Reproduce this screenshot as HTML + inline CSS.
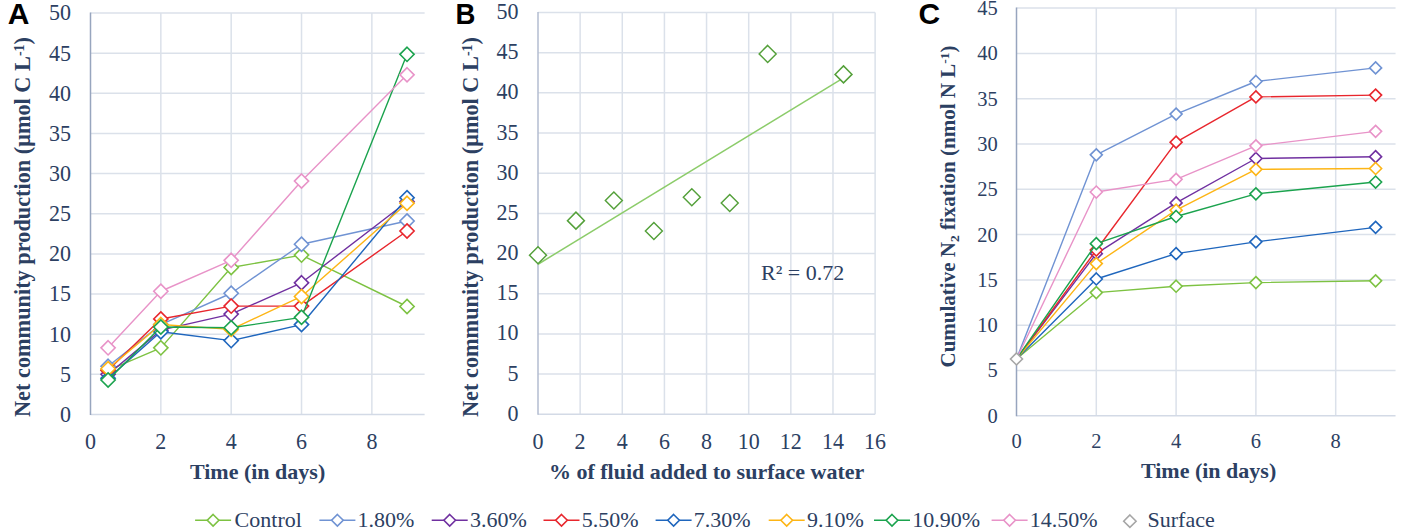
<!DOCTYPE html>
<html><head><meta charset="utf-8"><style>
html,body{margin:0;padding:0;background:#fff;}
body{width:1409px;height:530px;overflow:hidden;font-family:"Liberation Serif",serif;}
svg{display:block;}
</style></head><body>
<svg width="1409" height="530" viewBox="0 0 1409 530">
<rect width="1409" height="530" fill="#fff"/>
<line x1="90.5" y1="374.35" x2="424.62" y2="374.35" stroke="#dbe1ea" stroke-width="1.5"/>
<line x1="90.5" y1="334.20" x2="424.62" y2="334.20" stroke="#dbe1ea" stroke-width="1.5"/>
<line x1="90.5" y1="294.05" x2="424.62" y2="294.05" stroke="#dbe1ea" stroke-width="1.5"/>
<line x1="90.5" y1="253.90" x2="424.62" y2="253.90" stroke="#dbe1ea" stroke-width="1.5"/>
<line x1="90.5" y1="213.75" x2="424.62" y2="213.75" stroke="#dbe1ea" stroke-width="1.5"/>
<line x1="90.5" y1="173.60" x2="424.62" y2="173.60" stroke="#dbe1ea" stroke-width="1.5"/>
<line x1="90.5" y1="133.45" x2="424.62" y2="133.45" stroke="#dbe1ea" stroke-width="1.5"/>
<line x1="90.5" y1="93.30" x2="424.62" y2="93.30" stroke="#dbe1ea" stroke-width="1.5"/>
<line x1="90.5" y1="53.15" x2="424.62" y2="53.15" stroke="#dbe1ea" stroke-width="1.5"/>
<line x1="90.5" y1="13.00" x2="424.62" y2="13.00" stroke="#dbe1ea" stroke-width="1.5"/>
<line x1="160.84" y1="13.00" x2="160.84" y2="414.50" stroke="#dbe1ea" stroke-width="1.5"/>
<line x1="231.18" y1="13.00" x2="231.18" y2="414.50" stroke="#dbe1ea" stroke-width="1.5"/>
<line x1="301.52" y1="13.00" x2="301.52" y2="414.50" stroke="#dbe1ea" stroke-width="1.5"/>
<line x1="371.86" y1="13.00" x2="371.86" y2="414.50" stroke="#dbe1ea" stroke-width="1.5"/>
<line x1="90.5" y1="414.50" x2="424.62" y2="414.50" stroke="#d3dae6" stroke-width="1.5"/>
<line x1="90.5" y1="12.50" x2="90.5" y2="415.00" stroke="#97a5be" stroke-width="1.5"/>
<line x1="538.0" y1="374.12" x2="875.12" y2="374.12" stroke="#dbe1ea" stroke-width="1.5"/>
<line x1="538.0" y1="333.94" x2="875.12" y2="333.94" stroke="#dbe1ea" stroke-width="1.5"/>
<line x1="538.0" y1="293.76" x2="875.12" y2="293.76" stroke="#dbe1ea" stroke-width="1.5"/>
<line x1="538.0" y1="253.58" x2="875.12" y2="253.58" stroke="#dbe1ea" stroke-width="1.5"/>
<line x1="538.0" y1="213.40" x2="875.12" y2="213.40" stroke="#dbe1ea" stroke-width="1.5"/>
<line x1="538.0" y1="173.22" x2="875.12" y2="173.22" stroke="#dbe1ea" stroke-width="1.5"/>
<line x1="538.0" y1="133.04" x2="875.12" y2="133.04" stroke="#dbe1ea" stroke-width="1.5"/>
<line x1="538.0" y1="92.86" x2="875.12" y2="92.86" stroke="#dbe1ea" stroke-width="1.5"/>
<line x1="538.0" y1="52.68" x2="875.12" y2="52.68" stroke="#dbe1ea" stroke-width="1.5"/>
<line x1="538.0" y1="12.50" x2="875.12" y2="12.50" stroke="#dbe1ea" stroke-width="1.5"/>
<line x1="580.14" y1="12.50" x2="580.14" y2="414.30" stroke="#dbe1ea" stroke-width="1.5"/>
<line x1="622.28" y1="12.50" x2="622.28" y2="414.30" stroke="#dbe1ea" stroke-width="1.5"/>
<line x1="664.42" y1="12.50" x2="664.42" y2="414.30" stroke="#dbe1ea" stroke-width="1.5"/>
<line x1="706.56" y1="12.50" x2="706.56" y2="414.30" stroke="#dbe1ea" stroke-width="1.5"/>
<line x1="748.70" y1="12.50" x2="748.70" y2="414.30" stroke="#dbe1ea" stroke-width="1.5"/>
<line x1="790.84" y1="12.50" x2="790.84" y2="414.30" stroke="#dbe1ea" stroke-width="1.5"/>
<line x1="832.98" y1="12.50" x2="832.98" y2="414.30" stroke="#dbe1ea" stroke-width="1.5"/>
<line x1="875.12" y1="12.50" x2="875.12" y2="414.30" stroke="#dbe1ea" stroke-width="1.5"/>
<line x1="538.0" y1="414.30" x2="875.12" y2="414.30" stroke="#d3dae6" stroke-width="1.5"/>
<line x1="538.0" y1="12.00" x2="538.0" y2="414.80" stroke="#b3bdd0" stroke-width="1.5"/>
<line x1="1016.5" y1="370.50" x2="1395.55" y2="370.50" stroke="#dbe1ea" stroke-width="1.5"/>
<line x1="1016.5" y1="325.20" x2="1395.55" y2="325.20" stroke="#dbe1ea" stroke-width="1.5"/>
<line x1="1016.5" y1="279.90" x2="1395.55" y2="279.90" stroke="#dbe1ea" stroke-width="1.5"/>
<line x1="1016.5" y1="234.60" x2="1395.55" y2="234.60" stroke="#dbe1ea" stroke-width="1.5"/>
<line x1="1016.5" y1="189.30" x2="1395.55" y2="189.30" stroke="#dbe1ea" stroke-width="1.5"/>
<line x1="1016.5" y1="144.00" x2="1395.55" y2="144.00" stroke="#dbe1ea" stroke-width="1.5"/>
<line x1="1016.5" y1="98.70" x2="1395.55" y2="98.70" stroke="#dbe1ea" stroke-width="1.5"/>
<line x1="1016.5" y1="53.40" x2="1395.55" y2="53.40" stroke="#dbe1ea" stroke-width="1.5"/>
<line x1="1016.5" y1="8.10" x2="1395.55" y2="8.10" stroke="#dbe1ea" stroke-width="1.5"/>
<line x1="1096.30" y1="8.10" x2="1096.30" y2="415.80" stroke="#dbe1ea" stroke-width="1.5"/>
<line x1="1176.10" y1="8.10" x2="1176.10" y2="415.80" stroke="#dbe1ea" stroke-width="1.5"/>
<line x1="1255.90" y1="8.10" x2="1255.90" y2="415.80" stroke="#dbe1ea" stroke-width="1.5"/>
<line x1="1335.70" y1="8.10" x2="1335.70" y2="415.80" stroke="#dbe1ea" stroke-width="1.5"/>
<line x1="1016.5" y1="415.80" x2="1395.55" y2="415.80" stroke="#d3dae6" stroke-width="1.5"/>
<line x1="1016.5" y1="7.60" x2="1016.5" y2="416.30" stroke="#97a5be" stroke-width="1.5"/>
<polyline points="108.09,370.33 160.84,347.85 231.18,267.55 301.52,255.10 407.03,306.50" fill="none" stroke="#7dc242" stroke-width="1.4" stroke-linejoin="round"/>
<path d="M108.09 363.23L115.19 370.33L108.09 377.44L100.99 370.33Z" fill="#fff" stroke="#7dc242" stroke-width="1.6" stroke-linejoin="miter"/>
<path d="M160.84 340.75L167.94 347.85L160.84 354.95L153.74 347.85Z" fill="#fff" stroke="#7dc242" stroke-width="1.6" stroke-linejoin="miter"/>
<path d="M231.18 260.45L238.28 267.55L231.18 274.65L224.08 267.55Z" fill="#fff" stroke="#7dc242" stroke-width="1.6" stroke-linejoin="miter"/>
<path d="M301.52 248.00L308.62 255.10L301.52 262.20L294.42 255.10Z" fill="#fff" stroke="#7dc242" stroke-width="1.6" stroke-linejoin="miter"/>
<path d="M407.03 299.40L414.13 306.50L407.03 313.60L399.93 306.50Z" fill="#fff" stroke="#7dc242" stroke-width="1.6" stroke-linejoin="miter"/>
<polyline points="108.09,366.32 160.84,324.56 231.18,293.25 301.52,244.26 407.03,220.98" fill="none" stroke="#7093d3" stroke-width="1.4" stroke-linejoin="round"/>
<path d="M108.09 359.22L115.19 366.32L108.09 373.42L100.99 366.32Z" fill="#fff" stroke="#7093d3" stroke-width="1.6" stroke-linejoin="miter"/>
<path d="M160.84 317.46L167.94 324.56L160.84 331.66L153.74 324.56Z" fill="#fff" stroke="#7093d3" stroke-width="1.6" stroke-linejoin="miter"/>
<path d="M231.18 286.15L238.28 293.25L231.18 300.35L224.08 293.25Z" fill="#fff" stroke="#7093d3" stroke-width="1.6" stroke-linejoin="miter"/>
<path d="M301.52 237.16L308.62 244.26L301.52 251.36L294.42 244.26Z" fill="#fff" stroke="#7093d3" stroke-width="1.6" stroke-linejoin="miter"/>
<path d="M407.03 213.88L414.13 220.98L407.03 228.08L399.93 220.98Z" fill="#fff" stroke="#7093d3" stroke-width="1.6" stroke-linejoin="miter"/>
<polyline points="108.09,374.35 160.84,330.19 231.18,314.12 301.52,282.81 407.03,201.71" fill="none" stroke="#7030a0" stroke-width="1.4" stroke-linejoin="round"/>
<path d="M108.09 367.25L115.19 374.35L108.09 381.45L100.99 374.35Z" fill="#fff" stroke="#7030a0" stroke-width="1.6" stroke-linejoin="miter"/>
<path d="M160.84 323.08L167.94 330.19L160.84 337.29L153.74 330.19Z" fill="#fff" stroke="#7030a0" stroke-width="1.6" stroke-linejoin="miter"/>
<path d="M231.18 307.02L238.28 314.12L231.18 321.23L224.08 314.12Z" fill="#fff" stroke="#7030a0" stroke-width="1.6" stroke-linejoin="miter"/>
<path d="M301.52 275.71L308.62 282.81L301.52 289.91L294.42 282.81Z" fill="#fff" stroke="#7030a0" stroke-width="1.6" stroke-linejoin="miter"/>
<path d="M407.03 194.61L414.13 201.71L407.03 208.81L399.93 201.71Z" fill="#fff" stroke="#7030a0" stroke-width="1.6" stroke-linejoin="miter"/>
<polyline points="108.09,370.33 160.84,318.94 231.18,306.10 301.52,306.10 407.03,231.01" fill="none" stroke="#e8262d" stroke-width="1.4" stroke-linejoin="round"/>
<path d="M108.09 363.23L115.19 370.33L108.09 377.44L100.99 370.33Z" fill="#fff" stroke="#e8262d" stroke-width="1.6" stroke-linejoin="miter"/>
<path d="M160.84 311.84L167.94 318.94L160.84 326.04L153.74 318.94Z" fill="#fff" stroke="#e8262d" stroke-width="1.6" stroke-linejoin="miter"/>
<path d="M231.18 299.00L238.28 306.10L231.18 313.20L224.08 306.10Z" fill="#fff" stroke="#e8262d" stroke-width="1.6" stroke-linejoin="miter"/>
<path d="M301.52 299.00L308.62 306.10L301.52 313.20L294.42 306.10Z" fill="#fff" stroke="#e8262d" stroke-width="1.6" stroke-linejoin="miter"/>
<path d="M407.03 223.91L414.13 231.01L407.03 238.11L399.93 231.01Z" fill="#fff" stroke="#e8262d" stroke-width="1.6" stroke-linejoin="miter"/>
<polyline points="108.09,378.37 160.84,331.79 231.18,340.62 301.52,324.56 407.03,197.69" fill="none" stroke="#1f66bd" stroke-width="1.4" stroke-linejoin="round"/>
<path d="M108.09 371.26L115.19 378.37L108.09 385.47L100.99 378.37Z" fill="#fff" stroke="#1f66bd" stroke-width="1.6" stroke-linejoin="miter"/>
<path d="M160.84 324.69L167.94 331.79L160.84 338.89L153.74 331.79Z" fill="#fff" stroke="#1f66bd" stroke-width="1.6" stroke-linejoin="miter"/>
<path d="M231.18 333.52L238.28 340.62L231.18 347.72L224.08 340.62Z" fill="#fff" stroke="#1f66bd" stroke-width="1.6" stroke-linejoin="miter"/>
<path d="M301.52 317.46L308.62 324.56L301.52 331.66L294.42 324.56Z" fill="#fff" stroke="#1f66bd" stroke-width="1.6" stroke-linejoin="miter"/>
<path d="M407.03 190.59L414.13 197.69L407.03 204.79L399.93 197.69Z" fill="#fff" stroke="#1f66bd" stroke-width="1.6" stroke-linejoin="miter"/>
<polyline points="108.09,368.73 160.84,324.56 231.18,329.38 301.52,296.46 407.03,203.31" fill="none" stroke="#fdb515" stroke-width="1.4" stroke-linejoin="round"/>
<path d="M108.09 361.63L115.19 368.73L108.09 375.83L100.99 368.73Z" fill="#fff" stroke="#fdb515" stroke-width="1.6" stroke-linejoin="miter"/>
<path d="M160.84 317.46L167.94 324.56L160.84 331.66L153.74 324.56Z" fill="#fff" stroke="#fdb515" stroke-width="1.6" stroke-linejoin="miter"/>
<path d="M231.18 322.28L238.28 329.38L231.18 336.48L224.08 329.38Z" fill="#fff" stroke="#fdb515" stroke-width="1.6" stroke-linejoin="miter"/>
<path d="M301.52 289.36L308.62 296.46L301.52 303.56L294.42 296.46Z" fill="#fff" stroke="#fdb515" stroke-width="1.6" stroke-linejoin="miter"/>
<path d="M407.03 196.21L414.13 203.31L407.03 210.41L399.93 203.31Z" fill="#fff" stroke="#fdb515" stroke-width="1.6" stroke-linejoin="miter"/>
<polyline points="108.09,379.97 160.84,326.97 231.18,327.78 301.52,317.34 407.03,54.35" fill="none" stroke="#1ba34e" stroke-width="1.4" stroke-linejoin="round"/>
<path d="M108.09 372.87L115.19 379.97L108.09 387.07L100.99 379.97Z" fill="#fff" stroke="#1ba34e" stroke-width="1.6" stroke-linejoin="miter"/>
<path d="M160.84 319.87L167.94 326.97L160.84 334.07L153.74 326.97Z" fill="#fff" stroke="#1ba34e" stroke-width="1.6" stroke-linejoin="miter"/>
<path d="M231.18 320.68L238.28 327.78L231.18 334.88L224.08 327.78Z" fill="#fff" stroke="#1ba34e" stroke-width="1.6" stroke-linejoin="miter"/>
<path d="M301.52 310.24L308.62 317.34L301.52 324.44L294.42 317.34Z" fill="#fff" stroke="#1ba34e" stroke-width="1.6" stroke-linejoin="miter"/>
<path d="M407.03 47.25L414.13 54.35L407.03 61.45L399.93 54.35Z" fill="#fff" stroke="#1ba34e" stroke-width="1.6" stroke-linejoin="miter"/>
<polyline points="108.09,347.85 160.84,291.24 231.18,260.32 301.52,181.07 407.03,74.83" fill="none" stroke="#e893c8" stroke-width="1.4" stroke-linejoin="round"/>
<path d="M108.09 340.75L115.19 347.85L108.09 354.95L100.99 347.85Z" fill="#fff" stroke="#e893c8" stroke-width="1.6" stroke-linejoin="miter"/>
<path d="M160.84 284.14L167.94 291.24L160.84 298.34L153.74 291.24Z" fill="#fff" stroke="#e893c8" stroke-width="1.6" stroke-linejoin="miter"/>
<path d="M231.18 253.22L238.28 260.32L231.18 267.42L224.08 260.32Z" fill="#fff" stroke="#e893c8" stroke-width="1.6" stroke-linejoin="miter"/>
<path d="M301.52 173.97L308.62 181.07L301.52 188.17L294.42 181.07Z" fill="#fff" stroke="#e893c8" stroke-width="1.6" stroke-linejoin="miter"/>
<path d="M407.03 67.73L414.13 74.83L407.03 81.93L399.93 74.83Z" fill="#fff" stroke="#e893c8" stroke-width="1.6" stroke-linejoin="miter"/>
<line x1="538.00" y1="264.26" x2="843.51" y2="77.80" stroke="#8ccc6a" stroke-width="1.5"/>
<path d="M538.00 246.69L546.50 255.19L538.00 263.69L529.50 255.19Z" fill="#fff" stroke="#54a03a" stroke-width="1.45" stroke-linejoin="miter"/>
<path d="M575.93 212.13L584.43 220.63L575.93 229.13L567.43 220.63Z" fill="#fff" stroke="#54a03a" stroke-width="1.45" stroke-linejoin="miter"/>
<path d="M613.85 192.04L622.35 200.54L613.85 209.04L605.35 200.54Z" fill="#fff" stroke="#54a03a" stroke-width="1.45" stroke-linejoin="miter"/>
<path d="M653.88 222.58L662.38 231.08L653.88 239.58L645.38 231.08Z" fill="#fff" stroke="#54a03a" stroke-width="1.45" stroke-linejoin="miter"/>
<path d="M691.81 188.83L700.31 197.33L691.81 205.83L683.31 197.33Z" fill="#fff" stroke="#54a03a" stroke-width="1.45" stroke-linejoin="miter"/>
<path d="M729.74 194.45L738.24 202.95L729.74 211.45L721.24 202.95Z" fill="#fff" stroke="#54a03a" stroke-width="1.45" stroke-linejoin="miter"/>
<path d="M767.66 45.39L776.16 53.89L767.66 62.39L759.16 53.89Z" fill="#fff" stroke="#54a03a" stroke-width="1.45" stroke-linejoin="miter"/>
<path d="M843.51 65.88L852.01 74.38L843.51 82.88L835.01 74.38Z" fill="#fff" stroke="#54a03a" stroke-width="1.45" stroke-linejoin="miter"/>
<polyline points="1016.50,358.99 1096.30,292.58 1176.10,286.24 1255.90,282.62 1375.60,280.81" fill="none" stroke="#7dc242" stroke-width="1.4" stroke-linejoin="round"/>
<path d="M1096.30 286.58L1102.30 292.58L1096.30 298.58L1090.30 292.58Z" fill="#fff" stroke="#7dc242" stroke-width="1.6" stroke-linejoin="miter"/>
<path d="M1176.10 280.24L1182.10 286.24L1176.10 292.24L1170.10 286.24Z" fill="#fff" stroke="#7dc242" stroke-width="1.6" stroke-linejoin="miter"/>
<path d="M1255.90 276.62L1261.90 282.62L1255.90 288.62L1249.90 282.62Z" fill="#fff" stroke="#7dc242" stroke-width="1.6" stroke-linejoin="miter"/>
<path d="M1375.60 274.81L1381.60 280.81L1375.60 286.81L1369.60 280.81Z" fill="#fff" stroke="#7dc242" stroke-width="1.6" stroke-linejoin="miter"/>
<polyline points="1016.50,358.99 1096.30,154.87 1176.10,114.10 1255.90,81.49 1375.60,67.90" fill="none" stroke="#7093d3" stroke-width="1.4" stroke-linejoin="round"/>
<path d="M1096.30 148.87L1102.30 154.87L1096.30 160.87L1090.30 154.87Z" fill="#fff" stroke="#7093d3" stroke-width="1.6" stroke-linejoin="miter"/>
<path d="M1176.10 108.10L1182.10 114.10L1176.10 120.10L1170.10 114.10Z" fill="#fff" stroke="#7093d3" stroke-width="1.6" stroke-linejoin="miter"/>
<path d="M1255.90 75.49L1261.90 81.49L1255.90 87.49L1249.90 81.49Z" fill="#fff" stroke="#7093d3" stroke-width="1.6" stroke-linejoin="miter"/>
<path d="M1375.60 61.90L1381.60 67.90L1375.60 73.90L1369.60 67.90Z" fill="#fff" stroke="#7093d3" stroke-width="1.6" stroke-linejoin="miter"/>
<polyline points="1016.50,358.99 1096.30,253.63 1176.10,202.89 1255.90,158.50 1375.60,156.68" fill="none" stroke="#7030a0" stroke-width="1.4" stroke-linejoin="round"/>
<path d="M1096.30 247.63L1102.30 253.63L1096.30 259.63L1090.30 253.63Z" fill="#fff" stroke="#7030a0" stroke-width="1.6" stroke-linejoin="miter"/>
<path d="M1176.10 196.89L1182.10 202.89L1176.10 208.89L1170.10 202.89Z" fill="#fff" stroke="#7030a0" stroke-width="1.6" stroke-linejoin="miter"/>
<path d="M1255.90 152.50L1261.90 158.50L1255.90 164.50L1249.90 158.50Z" fill="#fff" stroke="#7030a0" stroke-width="1.6" stroke-linejoin="miter"/>
<path d="M1375.60 150.68L1381.60 156.68L1375.60 162.68L1369.60 156.68Z" fill="#fff" stroke="#7030a0" stroke-width="1.6" stroke-linejoin="miter"/>
<polyline points="1016.50,358.99 1096.30,250.00 1176.10,142.19 1255.90,96.89 1375.60,95.08" fill="none" stroke="#e8262d" stroke-width="1.4" stroke-linejoin="round"/>
<path d="M1096.30 244.00L1102.30 250.00L1096.30 256.00L1090.30 250.00Z" fill="#fff" stroke="#e8262d" stroke-width="1.6" stroke-linejoin="miter"/>
<path d="M1176.10 136.19L1182.10 142.19L1176.10 148.19L1170.10 142.19Z" fill="#fff" stroke="#e8262d" stroke-width="1.6" stroke-linejoin="miter"/>
<path d="M1255.90 90.89L1261.90 96.89L1255.90 102.89L1249.90 96.89Z" fill="#fff" stroke="#e8262d" stroke-width="1.6" stroke-linejoin="miter"/>
<path d="M1375.60 89.08L1381.60 95.08L1375.60 101.08L1369.60 95.08Z" fill="#fff" stroke="#e8262d" stroke-width="1.6" stroke-linejoin="miter"/>
<polyline points="1016.50,358.99 1096.30,278.99 1176.10,253.63 1255.90,241.85 1375.60,227.35" fill="none" stroke="#1f66bd" stroke-width="1.4" stroke-linejoin="round"/>
<path d="M1096.30 272.99L1102.30 278.99L1096.30 284.99L1090.30 278.99Z" fill="#fff" stroke="#1f66bd" stroke-width="1.6" stroke-linejoin="miter"/>
<path d="M1176.10 247.63L1182.10 253.63L1176.10 259.63L1170.10 253.63Z" fill="#fff" stroke="#1f66bd" stroke-width="1.6" stroke-linejoin="miter"/>
<path d="M1255.90 235.85L1261.90 241.85L1255.90 247.85L1249.90 241.85Z" fill="#fff" stroke="#1f66bd" stroke-width="1.6" stroke-linejoin="miter"/>
<path d="M1375.60 221.35L1381.60 227.35L1375.60 233.35L1369.60 227.35Z" fill="#fff" stroke="#1f66bd" stroke-width="1.6" stroke-linejoin="miter"/>
<polyline points="1016.50,358.99 1096.30,263.59 1176.10,210.14 1255.90,169.37 1375.60,168.46" fill="none" stroke="#fdb515" stroke-width="1.4" stroke-linejoin="round"/>
<path d="M1096.30 257.59L1102.30 263.59L1096.30 269.59L1090.30 263.59Z" fill="#fff" stroke="#fdb515" stroke-width="1.6" stroke-linejoin="miter"/>
<path d="M1176.10 204.14L1182.10 210.14L1176.10 216.14L1170.10 210.14Z" fill="#fff" stroke="#fdb515" stroke-width="1.6" stroke-linejoin="miter"/>
<path d="M1255.90 163.37L1261.90 169.37L1255.90 175.37L1249.90 169.37Z" fill="#fff" stroke="#fdb515" stroke-width="1.6" stroke-linejoin="miter"/>
<path d="M1375.60 162.46L1381.60 168.46L1375.60 174.46L1369.60 168.46Z" fill="#fff" stroke="#fdb515" stroke-width="1.6" stroke-linejoin="miter"/>
<polyline points="1016.50,358.99 1096.30,243.66 1176.10,216.48 1255.90,193.83 1375.60,182.05" fill="none" stroke="#1ba34e" stroke-width="1.4" stroke-linejoin="round"/>
<path d="M1096.30 237.66L1102.30 243.66L1096.30 249.66L1090.30 243.66Z" fill="#fff" stroke="#1ba34e" stroke-width="1.6" stroke-linejoin="miter"/>
<path d="M1176.10 210.48L1182.10 216.48L1176.10 222.48L1170.10 216.48Z" fill="#fff" stroke="#1ba34e" stroke-width="1.6" stroke-linejoin="miter"/>
<path d="M1255.90 187.83L1261.90 193.83L1255.90 199.83L1249.90 193.83Z" fill="#fff" stroke="#1ba34e" stroke-width="1.6" stroke-linejoin="miter"/>
<path d="M1375.60 176.05L1381.60 182.05L1375.60 188.05L1369.60 182.05Z" fill="#fff" stroke="#1ba34e" stroke-width="1.6" stroke-linejoin="miter"/>
<polyline points="1016.50,358.99 1096.30,192.02 1176.10,179.33 1255.90,145.81 1375.60,131.32" fill="none" stroke="#e893c8" stroke-width="1.4" stroke-linejoin="round"/>
<path d="M1096.30 186.02L1102.30 192.02L1096.30 198.02L1090.30 192.02Z" fill="#fff" stroke="#e893c8" stroke-width="1.6" stroke-linejoin="miter"/>
<path d="M1176.10 173.33L1182.10 179.33L1176.10 185.33L1170.10 179.33Z" fill="#fff" stroke="#e893c8" stroke-width="1.6" stroke-linejoin="miter"/>
<path d="M1255.90 139.81L1261.90 145.81L1255.90 151.81L1249.90 145.81Z" fill="#fff" stroke="#e893c8" stroke-width="1.6" stroke-linejoin="miter"/>
<path d="M1375.60 125.32L1381.60 131.32L1375.60 137.32L1369.60 131.32Z" fill="#fff" stroke="#e893c8" stroke-width="1.6" stroke-linejoin="miter"/>
<path d="M1016.50 352.99L1022.50 358.99L1016.50 364.99L1010.50 358.99Z" fill="#fff" stroke="#a6a6a6" stroke-width="1.6" stroke-linejoin="miter"/>
<g font-family="Liberation Serif, serif" font-size="22" fill="#2c4062">
<text transform="translate(71.0,421.8) scale(1,1.07)" text-anchor="end">0</text>
<text transform="translate(71.0,381.7) scale(1,1.07)" text-anchor="end">5</text>
<text transform="translate(71.0,341.5) scale(1,1.07)" text-anchor="end">10</text>
<text transform="translate(71.0,301.4) scale(1,1.07)" text-anchor="end">15</text>
<text transform="translate(71.0,261.2) scale(1,1.07)" text-anchor="end">20</text>
<text transform="translate(71.0,221.1) scale(1,1.07)" text-anchor="end">25</text>
<text transform="translate(71.0,180.9) scale(1,1.07)" text-anchor="end">30</text>
<text transform="translate(71.0,140.8) scale(1,1.07)" text-anchor="end">35</text>
<text transform="translate(71.0,100.6) scale(1,1.07)" text-anchor="end">40</text>
<text transform="translate(71.0,60.5) scale(1,1.07)" text-anchor="end">45</text>
<text transform="translate(71.0,20.3) scale(1,1.07)" text-anchor="end">50</text>
<text transform="translate(518.5,420.8) scale(1,1.07)" text-anchor="end">0</text>
<text transform="translate(518.5,380.6) scale(1,1.07)" text-anchor="end">5</text>
<text transform="translate(518.5,340.4) scale(1,1.07)" text-anchor="end">10</text>
<text transform="translate(518.5,300.3) scale(1,1.07)" text-anchor="end">15</text>
<text transform="translate(518.5,260.1) scale(1,1.07)" text-anchor="end">20</text>
<text transform="translate(518.5,219.9) scale(1,1.07)" text-anchor="end">25</text>
<text transform="translate(518.5,179.7) scale(1,1.07)" text-anchor="end">30</text>
<text transform="translate(518.5,139.5) scale(1,1.07)" text-anchor="end">35</text>
<text transform="translate(518.5,99.4) scale(1,1.07)" text-anchor="end">40</text>
<text transform="translate(518.5,59.2) scale(1,1.07)" text-anchor="end">45</text>
<text transform="translate(518.5,19.0) scale(1,1.07)" text-anchor="end">50</text>
<g font-size="20.5">
<text transform="translate(997.8,422.7) scale(1,1.07)" text-anchor="end">0</text>
<text transform="translate(997.8,377.4) scale(1,1.07)" text-anchor="end">5</text>
<text transform="translate(997.8,332.1) scale(1,1.07)" text-anchor="end">10</text>
<text transform="translate(997.8,286.8) scale(1,1.07)" text-anchor="end">15</text>
<text transform="translate(997.8,241.5) scale(1,1.07)" text-anchor="end">20</text>
<text transform="translate(997.8,196.2) scale(1,1.07)" text-anchor="end">25</text>
<text transform="translate(997.8,150.9) scale(1,1.07)" text-anchor="end">30</text>
<text transform="translate(997.8,105.6) scale(1,1.07)" text-anchor="end">35</text>
<text transform="translate(997.8,60.3) scale(1,1.07)" text-anchor="end">40</text>
<text transform="translate(997.8,15.0) scale(1,1.07)" text-anchor="end">45</text>
</g>
<text transform="translate(90.5,448.7) scale(1,1.07)" text-anchor="middle">0</text>
<text transform="translate(160.8,448.7) scale(1,1.07)" text-anchor="middle">2</text>
<text transform="translate(231.2,448.7) scale(1,1.07)" text-anchor="middle">4</text>
<text transform="translate(301.5,448.7) scale(1,1.07)" text-anchor="middle">6</text>
<text transform="translate(371.9,448.7) scale(1,1.07)" text-anchor="middle">8</text>
<text transform="translate(538.0,448.7) scale(1,1.07)" text-anchor="middle">0</text>
<text transform="translate(580.1,448.7) scale(1,1.07)" text-anchor="middle">2</text>
<text transform="translate(622.3,448.7) scale(1,1.07)" text-anchor="middle">4</text>
<text transform="translate(664.4,448.7) scale(1,1.07)" text-anchor="middle">6</text>
<text transform="translate(706.6,448.7) scale(1,1.07)" text-anchor="middle">8</text>
<text transform="translate(748.7,448.7) scale(1,1.07)" text-anchor="middle">10</text>
<text transform="translate(790.8,448.7) scale(1,1.07)" text-anchor="middle">12</text>
<text transform="translate(833.0,448.7) scale(1,1.07)" text-anchor="middle">14</text>
<text transform="translate(875.1,448.7) scale(1,1.07)" text-anchor="middle">16</text>
<g font-size="20.5">
<text transform="translate(1016.5,447.8) scale(1,1.07)" text-anchor="middle">0</text>
<text transform="translate(1096.3,447.8) scale(1,1.07)" text-anchor="middle">2</text>
<text transform="translate(1176.1,447.8) scale(1,1.07)" text-anchor="middle">4</text>
<text transform="translate(1255.9,447.8) scale(1,1.07)" text-anchor="middle">6</text>
<text transform="translate(1335.7,447.8) scale(1,1.07)" text-anchor="middle">8</text>
</g>
<text x="761" y="279.8">R² = 0.72</text>
</g>
<g font-family="Liberation Serif, serif" font-size="22" font-weight="bold" fill="#2c4062">
<text x="257.6" y="478.7" text-anchor="middle">Time (in days)</text>
<text x="706.6" y="478.7" text-anchor="middle">% of fluid added to surface water</text>
<text x="1208.6" y="477.8" text-anchor="middle">Time (in days)</text>
<g font-size="22.3">
<text transform="translate(30.0,417) rotate(-90)" x="0" y="0">Net community production (μmol C L<tspan font-size="14" dy="-6">-1</tspan><tspan dy="6">)</tspan></text>
<text transform="translate(478.0,417) rotate(-90)" x="0" y="0">Net community production (μmol C L<tspan font-size="14" dy="-6">-1</tspan><tspan dy="6">)</tspan></text>
</g>
<g font-size="21">
<text transform="translate(955.4,367.5) rotate(-90)" x="0" y="0">Cumulative N<tspan font-size="13.5" dy="4">2</tspan><tspan dy="-4"> fixation (nmol N L</tspan><tspan font-size="13.5" dy="-6">-1</tspan><tspan dy="6">)</tspan></text>
</g>
</g>
<g font-family="Liberation Sans, sans-serif" font-size="30" font-weight="bold" fill="#000">
<text x="7.8" y="24.1">A</text>
<text transform="translate(455.6,24.1) scale(0.92,1)">B</text>
<text x="918.6" y="24.1">C</text>
</g>
<line x1="195.1" y1="520.3" x2="231.1" y2="520.3" stroke="#7dc242" stroke-width="1.6"/>
<path d="M213.10 514.50L218.90 520.30L213.10 526.10L207.30 520.30Z" fill="#fff" stroke="#7dc242" stroke-width="1.6" stroke-linejoin="miter"/>
<text x="234.6" y="527.1" font-family="Liberation Serif, serif" font-size="22" fill="#2c4062">Control</text>
<line x1="319.4" y1="520.3" x2="355.4" y2="520.3" stroke="#7093d3" stroke-width="1.6"/>
<path d="M337.40 514.50L343.20 520.30L337.40 526.10L331.60 520.30Z" fill="#fff" stroke="#7093d3" stroke-width="1.6" stroke-linejoin="miter"/>
<text x="357.6" y="527.1" font-family="Liberation Serif, serif" font-size="22" fill="#2c4062">1.80%</text>
<line x1="431.7" y1="520.3" x2="467.7" y2="520.3" stroke="#7030a0" stroke-width="1.6"/>
<path d="M449.70 514.50L455.50 520.30L449.70 526.10L443.90 520.30Z" fill="#fff" stroke="#7030a0" stroke-width="1.6" stroke-linejoin="miter"/>
<text x="469.9" y="527.1" font-family="Liberation Serif, serif" font-size="22" fill="#2c4062">3.60%</text>
<line x1="543.5" y1="520.3" x2="579.5" y2="520.3" stroke="#e8262d" stroke-width="1.6"/>
<path d="M561.50 514.50L567.30 520.30L561.50 526.10L555.70 520.30Z" fill="#fff" stroke="#e8262d" stroke-width="1.6" stroke-linejoin="miter"/>
<text x="581.7" y="527.1" font-family="Liberation Serif, serif" font-size="22" fill="#2c4062">5.50%</text>
<line x1="655.6" y1="520.3" x2="691.6" y2="520.3" stroke="#1f66bd" stroke-width="1.6"/>
<path d="M673.60 514.50L679.40 520.30L673.60 526.10L667.80 520.30Z" fill="#fff" stroke="#1f66bd" stroke-width="1.6" stroke-linejoin="miter"/>
<text x="693.8" y="527.1" font-family="Liberation Serif, serif" font-size="22" fill="#2c4062">7.30%</text>
<line x1="768.7" y1="520.3" x2="804.7" y2="520.3" stroke="#fdb515" stroke-width="1.6"/>
<path d="M786.70 514.50L792.50 520.30L786.70 526.10L780.90 520.30Z" fill="#fff" stroke="#fdb515" stroke-width="1.6" stroke-linejoin="miter"/>
<text x="806.9" y="527.1" font-family="Liberation Serif, serif" font-size="22" fill="#2c4062">9.10%</text>
<line x1="874.0" y1="520.3" x2="910.0" y2="520.3" stroke="#1ba34e" stroke-width="1.6"/>
<path d="M892.00 514.50L897.80 520.30L892.00 526.10L886.20 520.30Z" fill="#fff" stroke="#1ba34e" stroke-width="1.6" stroke-linejoin="miter"/>
<text x="912.2" y="527.1" font-family="Liberation Serif, serif" font-size="22" fill="#2c4062">10.90%</text>
<line x1="991.6" y1="520.3" x2="1027.6" y2="520.3" stroke="#e893c8" stroke-width="1.6"/>
<path d="M1009.60 514.50L1015.40 520.30L1009.60 526.10L1003.80 520.30Z" fill="#fff" stroke="#e893c8" stroke-width="1.6" stroke-linejoin="miter"/>
<text x="1029.8" y="527.1" font-family="Liberation Serif, serif" font-size="22" fill="#2c4062">14.50%</text>
<path d="M1129.90 515.00L1136.10 521.20L1129.90 527.40L1123.70 521.20Z" fill="#fff" stroke="#a6a6a6" stroke-width="1.6" stroke-linejoin="miter"/>
<text x="1147.5" y="527.1" font-family="Liberation Serif, serif" font-size="22" fill="#2c4062">Surface</text>
</svg>
</body></html>
